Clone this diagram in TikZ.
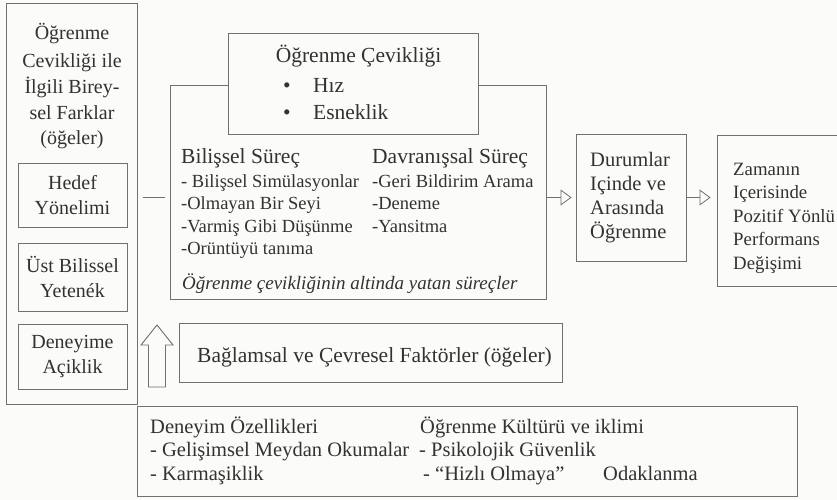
\documentclass[tikz,border=0pt]{standalone}
\usepackage{fontspec}
\setmainfont{Liberation Serif}
\usetikzlibrary{arrows.meta}

\definecolor{edgegray}{RGB}{112,112,112}
\definecolor{inkgray}{RGB}{50,50,50}
\definecolor{paper}{RGB}{251,251,249}

\newcommand{\fsleft}{\fontsize{20}{25.5}\selectfont}
\newcommand{\fshead}{\fontsize{21.5}{26}\selectfont}
\newcommand{\fsitem}{\fontsize{18.5}{22.7}\selectfont}
\newcommand{\fsflow}{\fontsize{20.5}{24}\selectfont}
\newcommand{\fslow}{\fontsize{20.5}{23.5}\selectfont}

\tikzset{
  box/.style={draw=edgegray, line width=0.9pt, fill=paper, inner sep=0pt},
  txt/.style={text=inkgray, inner sep=0pt},
  sidebox/.style={box, text=inkgray, align=center, font=\fsleft, minimum width=109pt},
  flow/.style={draw=edgegray, line width=0.8pt, -{Triangle[open, length=11pt, width=16pt]}},
  link/.style={draw=edgegray, line width=0.8pt},
}

\begin{document}
\begin{tikzpicture}[x=1pt,y=-1pt]
\clip (0,0) rectangle (837,500);
\fill[paper] (0,0) rectangle (837,500);

% bireysel farklar
\node[box, minimum width=131pt, minimum height=401pt] (indiv) at (71.5,203.5) {};
\foreach \t/\y [count=\i] in {Öğrenme/40, Cevikliği ile/67.5, İlgili Birey-/93.5, sel Farklar/119, (öğeler)/144.5}
  \node[txt, font=\fsleft, anchor=base] (indiv\i) at (72,\y) {\t};
\node[sidebox, minimum height=64pt] (goal) at (72.5,195) {Hedef\\Yönelimi};
\node[sidebox, minimum height=68pt] (meta) at (72.5,277) {Üst Bilissel\\Yetenék};
\node[sidebox, minimum height=65pt] (open) at (72.5,356.5) {Deneyime\\Açiklik};

% surecler
\node[box, minimum width=376pt, minimum height=214pt] (process) at (358,192) {};
\node[box, minimum width=250pt, minimum height=101pt] (agility) at (353,83.5) {};
\node[txt, font=\fshead, anchor=base] (agilitytitle) at (358.5,63) {Öğrenme Çevikliği};
\node[txt, font=\fshead, anchor=base west] (speed) at (283,93) {\makebox[30pt][l]{\textbullet}Hız};
\node[txt, font=\fshead, anchor=base west] (flex) at (283,120) {\makebox[30pt][l]{\textbullet}Esneklik};

\node[txt, font=\fshead, anchor=base west] (cogtitle) at (181,163) {Bilişsel Süreç};
\foreach \t/\y [count=\i] in {- Bilişsel Simülasyonlar/187, -Olmayan Bir Seyi/209.5, -Varmiş Gibi Düşünme/232, -Orüntüyü tanıma/254.5}
  \node[txt, font=\fsitem, anchor=base west] (cog\i) at (181,\y) {\t};
\node[txt, font=\fshead, anchor=base west] (behtitle) at (372,163) {Davranışsal Süreç};
\foreach \t/\y [count=\i] in {-Geri Bildirim Arama/187, -Deneme/209.5, -Yansitma/232}
  \node[txt, font=\fsitem, anchor=base west] (beh\i) at (372,\y) {\t};
\node[txt, font=\fontsize{19}{22}\selectfont\itshape, anchor=base west] (under) at (182,289) {Öğrenme çevikliğinin altinda yatan süreçler};

% sonuclar
\node[box, minimum width=110pt, minimum height=127pt] (durum) at (631,197.5) {};
\foreach \t/\y [count=\i] in {Durumlar/166, Içinde ve/190, Arasında/214, Öğrenme/238}
  \node[txt, font=\fsflow, anchor=base west] (durum\i) at (590,\y) {\t};
\node[box, minimum width=140pt, minimum height=151pt] (zaman) at (787,210.5) {};
\foreach \t/\y [count=\i] in {Zamanın/175, Içerisinde/198.5, Pozitif Yönlü/222, Performans/245.5, Değişimi/269}
  \node[txt, font=\fontsize{18.8}{23}\selectfont, anchor=base west] (zaman\i) at (733,\y) {\t};

\draw[link, shorten <=6pt, shorten >=5pt] (indiv.east |- durum.west) -- (process.west |- durum.west);
\draw[flow, shorten >=4pt] (process.east |- durum.west) -- (durum.west);
\draw[flow, shorten >=6pt] (durum.east) -- (zaman.west |- durum.east);

% baglam
\coordinate (ctxtip) at (157,325);
\draw[draw=edgegray, line width=0.9pt, fill=paper, line join=miter]
  (ctxtip) -- ++(16,20) -- ++(-7.5,0) -- ++(0,42) -- ++(-17,0) -- ++(0,-42) -- ++(-7.5,0) -- cycle;
\node[box, minimum width=383pt, minimum height=59pt] (context) at (370.5,352.5) {};
\node[txt, font=\fshead, anchor=base west] (contexttext) at (197,362) {Bağlamsal ve Çevresel Faktörler (öğeler)};

\node[box, minimum width=660pt, minimum height=90pt] (factors) at (467,451) {};
\node[txt, font=\fslow, anchor=base west] (exptitle) at (150,433) {Deneyim Özellikleri};
\node[txt, font=\fslow, anchor=base west] (exp1) at (150,456.5) {- Gelişimsel Meydan Okumalar};
\node[txt, font=\fslow, anchor=base west] (exp2) at (150,480) {- Karmaşiklik};
\node[txt, font=\fslow, anchor=base west] (culttitle) at (420,433) {Öğrenme Kültürü ve iklimi};
\node[txt, font=\fslow, anchor=base west] (cult1) at (419,456.5) {- Psikolojik Güvenlik};
\node[txt, font=\fslow, anchor=base west] (cult2) at (423,480) {- “Hizlı Olmaya”};
\node[txt, font=\fslow, anchor=base west] (cult3) at (603,480) {Odaklanma};
\end{tikzpicture}
\end{document}
